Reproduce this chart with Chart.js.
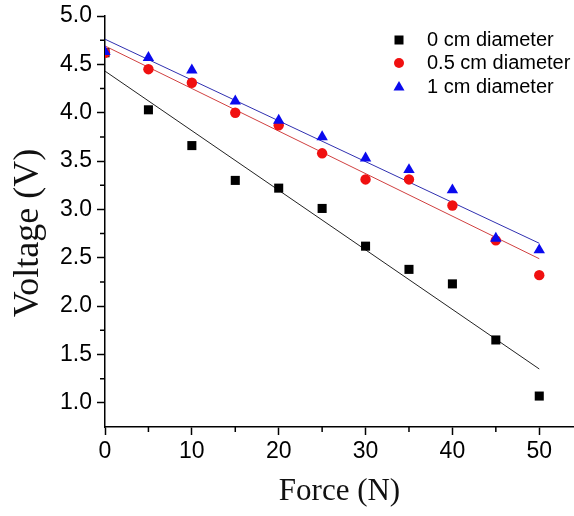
<!DOCTYPE html>
<html>
<head>
<meta charset="utf-8">
<script src="https://cdn.jsdelivr.net/npm/chart.js@4"></script>
<style>
  html, body { margin: 0; padding: 0; background: #fff; }
  #wrap { width: 574px; height: 516px; }
</style>
</head>
<body>
<div id="wrap"><canvas id="chart" width="574" height="516"></canvas></div>
<script>
// data
const force = [0, 5, 10, 15, 20, 25, 30, 35, 40, 45, 50];
const volt0cm = [4.62, 4.03, 3.66, 3.30, 3.22, 3.01, 2.62, 2.38, 2.23, 1.65, 1.07];
const volt05cm = [4.62, 4.45, 4.31, 4.00, 3.87, 3.58, 3.31, 3.31, 3.04, 2.68, 2.32];
const volt1cm = [4.63, 4.57, 4.44, 4.12, 3.92, 3.75, 3.53, 3.41, 3.20, 2.70, 2.58];

// linear fit lines (ends at x = 0 and x = 50)
const fitX = [0, 50];
const fit0cm = [4.43, 1.35];
const fit05cm = [4.69, 2.49];
const fit1cm = [4.76, 2.65];

const seriesNames = ["0 cm diameter", "0.5 cm diameter", "1 cm diameter"];
const xTicks = [0, 10, 20, 30, 40, 50];
const xMinor = [5, 15, 25, 35, 45];
const yTicks = [1.0, 1.5, 2.0, 2.5, 3.0, 3.5, 4.0, 4.5, 5.0];
const yMinor = [1.25, 1.75, 2.25, 2.75, 3.25, 3.75, 4.25, 4.75];

const pts = (xs, ys) => xs.map((x, i) => ({ x: x, y: ys[i] }));

// short minor ticks, drawn on the axes
const minorTicks = {
  id: "minorTicks",
  afterDraw(chart) {
    const c = chart.ctx;
    const xs = chart.scales.x, ys = chart.scales.y;
    c.save();
    c.strokeStyle = "#000";
    c.lineWidth = 1.5;
    c.beginPath();
    xMinor.forEach(v => {
      const px = xs.getPixelForValue(v);
      c.moveTo(px, xs.top);
      c.lineTo(px, xs.top + 5);
    });
    yMinor.forEach(v => {
      const py = ys.getPixelForValue(v);
      c.moveTo(ys.right, py);
      c.lineTo(ys.right - 5, py);
    });
    c.stroke();
    c.restore();
  }
};

// y title sits a bit below the middle of the axis, so it is drawn here
const yTitle = {
  id: "yTitle",
  afterDraw(chart) {
    const c = chart.ctx;
    c.save();
    c.translate(29, 233);
    c.rotate(-Math.PI / 2);
    c.font = "36px 'Liberation Serif', 'Times New Roman', serif";
    c.fillStyle = "#111";
    c.textAlign = "center";
    c.textBaseline = "middle";
    c.fillText("Voltage (V)", 0, 0);
    c.restore();
  }
};

// legend box in the top right
const legendBox = {
  id: "legendBox",
  afterDraw(chart) {
    const c = chart.ctx;
    const mx = 399, tx = 427;
    const rows = [40, 63, 87];
    c.save();
    c.font = "20px 'Liberation Sans', Arial, sans-serif";
    c.textBaseline = "middle";
    rows.forEach((y, i) => {
      c.fillStyle = ["#000", "#f01010", "#0a0aee"][i];
      c.beginPath();
      if (i === 0) {
        c.rect(mx - 4.5, y - 4.5, 9, 9);
      } else if (i === 1) {
        c.arc(mx, y, 5, 0, Math.PI * 2);
      } else {
        c.moveTo(mx, y - 6);
        c.lineTo(mx + 5.5, y + 3.5);
        c.lineTo(mx - 5.5, y + 3.5);
        c.closePath();
      }
      c.fill();
      c.fillStyle = "#000";
      c.fillText(seriesNames[i], tx, y);
    });
    c.restore();
  }
};

const tickFont = { family: "'Liberation Sans', Arial, sans-serif", size: 23 };
const xTitleFont = { family: "'Liberation Serif', 'Times New Roman', serif", size: 31 };

const ctx = document.getElementById("chart").getContext("2d");
new Chart(ctx, {
  type: "scatter",
  data: {
    datasets: [
      { type: "line", data: pts(fitX, fit0cm), borderColor: "#222", borderWidth: 1, pointRadius: 0, fill: false, order: 5 },
      { type: "line", data: pts(fitX, fit05cm), borderColor: "#d04040", borderWidth: 1, pointRadius: 0, fill: false, order: 5 },
      { type: "line", data: pts(fitX, fit1cm), borderColor: "#3030b0", borderWidth: 1, pointRadius: 0, fill: false, order: 5 },
      { label: seriesNames[0], data: pts(force, volt0cm), pointStyle: "rect", pointRadius: 6.4,
        backgroundColor: "#000", borderWidth: 0, order: 3 },
      { label: seriesNames[1], data: pts(force, volt05cm), pointStyle: "circle", pointRadius: 5.2,
        backgroundColor: "#f01010", borderWidth: 0, order: 2 },
      { label: seriesNames[2], data: pts(force, volt1cm), pointStyle: "triangle", pointRadius: 6.6,
        backgroundColor: "#0a0aee", borderWidth: 0, order: 1 }
    ]
  },
  options: {
    responsive: false,
    animation: false,
    devicePixelRatio: 1,
    layout: { autoPadding: false, padding: { top: 16, right: 0, bottom: 0, left: 0 } },
    plugins: { legend: { display: false }, tooltip: { enabled: false } },
    scales: {
      x: {
        type: "linear",
        min: 0,
        max: 54,
        afterBuildTicks: s => { s.ticks = xTicks.map(v => ({ value: v })); },
        afterFit: s => { s.height = 89; s.paddingLeft = 0; s.paddingRight = 0; },
        ticks: { font: tickFont, color: "#000", padding: 3, maxRotation: 0 },
        grid: { drawOnChartArea: false, drawTicks: true, tickLength: 8, tickColor: "#000", tickWidth: 1.5 },
        border: { color: "#000", width: 1.5 },
        title: { display: true, text: "Force (N)", font: xTitleFont, color: "#111", padding: { top: 0, bottom: 6 } }
      },
      y: {
        type: "linear",
        min: 0.75,
        max: 5.0,
        afterBuildTicks: s => { s.ticks = yTicks.map(v => ({ value: v })); },
        afterFit: s => { s.width = 105; s.paddingTop = 0; s.paddingBottom = 0; },
        ticks: { font: tickFont, color: "#000", padding: 5, callback: v => v.toFixed(1) },
        grid: { drawOnChartArea: false, drawTicks: true, tickLength: 8, tickColor: "#000", tickWidth: 1.5 },
        border: { color: "#000", width: 1.5 },
        title: { display: false }
      }
    }
  },
  plugins: [minorTicks, yTitle, legendBox]
});
</script>
</body>
</html>
